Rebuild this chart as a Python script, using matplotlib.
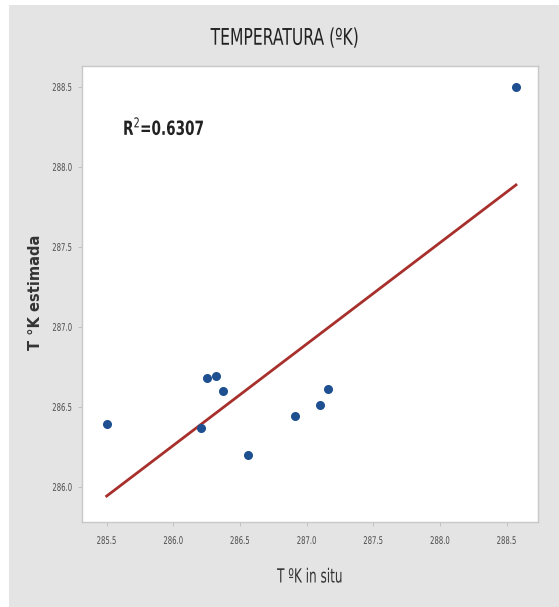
import numpy as np
import matplotlib
matplotlib.use("Agg")
import matplotlib.pyplot as plt
from matplotlib.patches import Rectangle
from matplotlib.patheffects import AbstractPathEffect
from matplotlib.transforms import Affine2D

# Measured vs. estimated temperature (K)
t_in_situ = [285.50, 286.21, 286.25, 286.32, 286.37, 286.56, 286.91, 287.10, 287.16, 288.57]
t_estimada = [286.39, 286.37, 286.68, 286.69, 286.60, 286.20, 286.44, 286.51, 286.61, 288.50]
r2_label = "0.6307"

x_ticks = [285.5, 286.0, 286.5, 287.0, 287.5, 288.0, 288.5]
y_ticks = [286.0, 286.5, 287.0, 287.5, 288.0, 288.5]


class Narrow(AbstractPathEffect):
    """Squeeze text horizontally about its left, centre or right edge."""

    def __init__(self, sx=0.7, anchor="center"):
        super().__init__()
        self.sx = sx
        self.anchor = anchor

    def draw_path(self, renderer, gc, tpath, affine, rgbFace=None):
        v = affine.transform(tpath.vertices)
        if len(v):
            x0, x1 = v[:, 0].min(), v[:, 0].max()
        else:
            x0 = x1 = 0.0
        a = {"left": x0, "right": x1}.get(self.anchor, 0.5 * (x0 + x1))
        squeeze = Affine2D().translate(-a, 0).scale(self.sx, 1).translate(a, 0)
        renderer.draw_path(gc, tpath, affine + squeeze, rgbFace)


fig = plt.figure(figsize=(5.59, 6.07), dpi=100, facecolor="white")
# grey panel behind the chart
fig.patches.append(Rectangle((9 / 559, 0), 1 - 9 / 559, 1 - 5 / 607,
                             transform=fig.transFigure, facecolor="#e4e4e4",
                             edgecolor="none", zorder=-10))

ax = fig.add_axes([82 / 559, 85 / 607, 456 / 559, 456 / 607])
ax.set_zorder(1)
ax.set_facecolor("white")

x = np.array(t_in_situ)
y = np.array(t_estimada)
slope, intercept = np.polyfit(x, y, 1)
xl = np.array([x.min(), x.max()])
ax.plot(xl, slope * xl + intercept, color="#a8302c", lw=2.0, zorder=2)
ax.plot(x, y, "o", color="#1d4f91", markersize=6.5, markeredgewidth=0, zorder=3)

ax.set_xlim(285.315, 288.735)
ax.set_ylim(285.78, 288.63)
ax.set_xticks(x_ticks)
ax.set_yticks(y_ticks)
ax.set_xticklabels([f"{v:.1f}" for v in x_ticks], fontsize=7.5, color="#4a4a4a")
ax.set_yticklabels([f"{v:.1f}" for v in y_ticks], fontsize=7.5, color="#4a4a4a")
for lab in ax.get_xticklabels():
    lab.set_path_effects([Narrow(0.66, "center")])
for lab in ax.get_yticklabels():
    lab.set_path_effects([Narrow(0.66, "right")])
ax.tick_params(axis="x", length=3, width=0.6, color="#bbbbbb", pad=7)
ax.tick_params(axis="y", length=3, width=0.6, color="#bbbbbb", pad=4)

for s in ax.spines.values():
    s.set_color("#c8c8c8")
    s.set_linewidth(1.0)

ax.text(0.09, 0.864, "R$^2$=" + r2_label, transform=ax.transAxes,
        fontweight="bold", fontsize=14, color="#222222",
        va="center", ha="left", path_effects=[Narrow(0.7, "left")])

fig.text(0.51, 0.937, "TEMPERATURA (ºK)", fontsize=16.5,
         color="#222222", ha="center", va="center",
         path_effects=[Narrow(0.68, "center")])
fig.text(0.555, 1 - 577 / 607, "T ºK in situ", fontsize=14,
         color="#333333", ha="center", va="center",
         path_effects=[Narrow(0.62, "center")])
fig.text(36 / 559, 1 - 292 / 607, "T °K estimada", fontfamily="DejaVu Sans",
         fontweight="bold", fontsize=10.5, color="#333333", rotation=90,
         ha="center", va="center")

fig.savefig("out.png", dpi=100, facecolor=fig.get_facecolor())
